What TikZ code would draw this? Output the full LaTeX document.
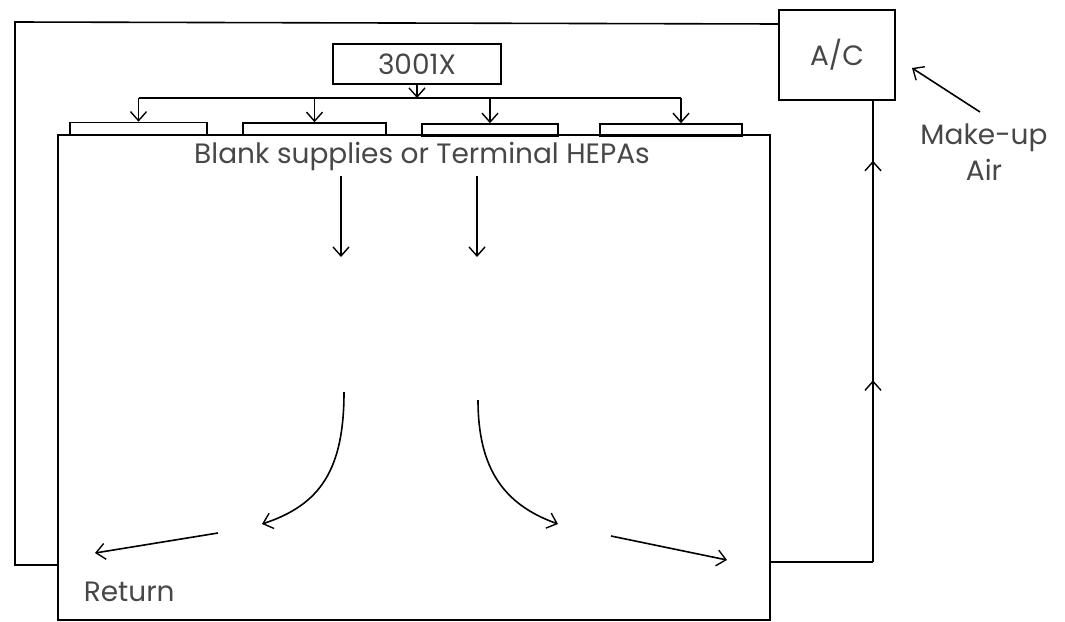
\documentclass[tikz,border=0pt]{standalone}
\usepackage{fontspec}
\setmainfont{Poppins}
\usetikzlibrary{arrows.meta,positioning,calc,decorations.markings}

\begin{document}
\begin{tikzpicture}[
    x=1pt, y=-1pt,
    >={Straight Barb[length=9pt,width=16pt,line width=1.4pt]},
    line width=1.6pt,
    label/.style={text=black!72, font=\fontsize{28}{32}\selectfont, inner sep=0pt},
    block/.style={draw, rectangle, minimum width=#1, align=center, label},
    diffuser/.style={draw, rectangle, minimum width=#1, minimum height=12pt, inner sep=0pt},
    room/.style={draw, rectangle, minimum width=712pt, minimum height=485pt, inner sep=0pt},
    flow/.style={->},
    uparrows/.style={postaction={decorate}, decoration={markings,
        mark=at position 0.394 with {\arrow{>}},
        mark=at position 0.87 with {\arrow{>}}}}
]
\useasboundingbox (0,0) rectangle (1065,621);

% Nodes
\node[room] (room) at (414,377.5) {};
\node[block=116pt, minimum height=90pt] (ac) at (837,55) {A/C};
\node[block=168pt, minimum height=40pt] (fan) at (417,64) {3001X};

\node[diffuser=137pt] (d1) at (138.5,128.5) {};
\node[diffuser=143pt] (d2) at (314.5,129) {};
\node[diffuser=136pt] (d3) at (490,130) {};
\node[diffuser=142pt] (d4) at (671,130) {};

\node[label] (hepa) at (422,156) {Blank supplies or Terminal HEPAs};
\node[label, anchor=west] (ret) at (83,592) {Return};
\node[label, align=center] (makeup) at (984,152) {Make-up\\[4pt]Air};

\coordinate (bus) at (417,98);
\coordinate (acin) at (779,24);
\coordinate (cornerTL) at (15,22);
\coordinate (cornerBL) at (15,565);
\coordinate (cornerBR) at (873,562);
\coordinate (mkA) at (980,112);
\coordinate (mkB) at (912,68);

% flow in the room
\coordinate (dnLa) at (341,176);
\coordinate (dnLb) at (341,257);
\coordinate (dnRa) at (477,176);
\coordinate (dnRb) at (477,257);
\coordinate (cvLa) at (344,392);
\coordinate (cvLb) at (262,524);
\coordinate (cvRa) at (478,400);
\coordinate (cvRb) at (558,524);
\coordinate (stLa) at (218,533);
\coordinate (stLb) at (95,553);
\coordinate (stRa) at (611,536);
\coordinate (stRb) at (727,560);

% Connections
\draw (d1.north |- bus) -- ([xshift=10pt]d4.north |- bus);
\draw[flow] (fan.south) -- (bus);
\draw[flow] (d1.north |- bus) -- (d1.north);
\draw[flow] (d2.north |- bus) -- (d2.north);
\draw[flow] (d3.north |- bus) -- (d3.north);
\draw[flow] ([xshift=10pt]d4.north |- bus) -- ([xshift=10pt]d4.north);

\draw (acin) -- (cornerTL) -- (cornerBL) -- (cornerBL -| room.west);
\draw (cornerBR -| room.east) -- (cornerBR);
\draw[uparrows] (cornerBR) -- (ac.south -| cornerBR);
\draw[flow] (mkA) -- (mkB);

\draw[flow] (dnLa) -- (dnLb);
\draw[flow] (dnRa) -- (dnRb);
\draw[flow] (cvLa) .. controls (344,470) and (320,505) .. (cvLb);
\draw[flow] (cvRa) .. controls (478,470) and (505,505) .. (cvRb);
\draw[flow] (stLa) -- (stLb);
\draw[flow] (stRa) -- (stRb);

\end{tikzpicture}
\end{document}
